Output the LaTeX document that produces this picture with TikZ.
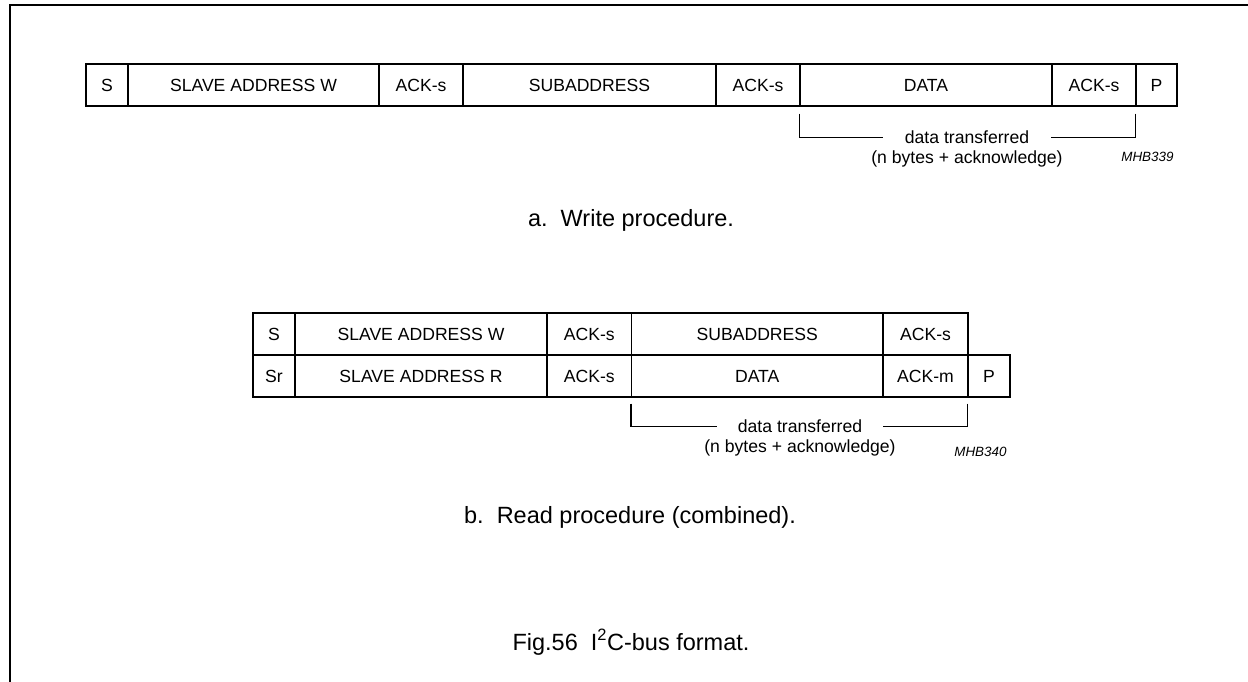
\documentclass[tikz,border=0pt]{standalone}
\usepackage{fontspec}
\setmainfont{Liberation Sans}
\begin{document}
\begin{tikzpicture}[x=1pt,y=-1pt,
  cell/.style={draw, line width=1.2pt, inner sep=0pt, minimum height=42pt,
    font=\fontsize{17.6}{20}\selectfont},
  bracket/.style={line width=1.2pt},
  brtext/.style={inner ysep=0pt, font=\fontsize{17.6}{20}\selectfont},
  tag/.style={anchor=base east, font=\fontsize{13.4}{16}\selectfont\itshape},
  title/.style={anchor=base, font=\fontsize{23.5}{28}\selectfont}]
\useasboundingbox (0,0) rectangle (1248,682);
% frame
\coordinate (fBL) at (10.3,684);
\coordinate (fTL) at (10.3,4.8);
\coordinate (fTR) at (1250,4.8);
\draw[line width=2pt] (fBL) -- (fTL) -- (fTR);
% ---- write procedure
\node[cell, minimum width=42pt]  (wS)   at (107,85)    {S};
\node[cell, minimum width=251pt] (wSA)  at (253.5,85)  {SLAVE ADDRESS W};
\node[cell, minimum width=84pt]  (wA1)  at (421,85)    {ACK-s};
\node[cell, minimum width=253pt] (wSub) at (589.5,85)  {SUBADDRESS};
\node[cell, minimum width=84pt]  (wA2)  at (758,85)    {ACK-s};
\node[cell, minimum width=252pt] (wD)   at (926,85)    {DATA};
\node[cell, minimum width=84pt]  (wA3)  at (1094,85)   {ACK-s};
\node[cell, minimum width=41pt]  (wP)   at (1156.5,85) {P};
\node[brtext, inner xsep=22pt] (wdt) at (967,137.7) {data transferred};
\node[brtext, anchor=base] (wnb) at (967,163.6) {(n bytes + acknowledge)};
\draw[bracket] ([yshift=-7pt]wD.south west) |- (wdt.west);
\draw[bracket] ([yshift=-7pt]wP.south west) |- (wdt.east);
\node[tag] (wtag) at (1177,161) {MHB339};
\node[title] (wtitle) at (631,226.5) {a.~~Write procedure.};
% ---- read procedure
\node[cell, minimum width=42pt]    (rS)   at (274,334)    {S};
\node[cell, minimum width=252pt]   (rSA)  at (421,334)    {SLAVE ADDRESS W};
\node[cell, minimum width=84.5pt]  (rA1)  at (589.25,334) {ACK-s};
\node[cell, minimum width=251.5pt] (rSub) at (757.25,334) {SUBADDRESS};
\node[cell, minimum width=85pt]    (rA2)  at (925.5,334)  {ACK-s};
\node[cell, minimum width=42pt]    (rSr)  at (274,376)    {Sr};
\node[cell, minimum width=252pt]   (rSAR) at (421,376)    {SLAVE ADDRESS R};
\node[cell, minimum width=84.5pt]  (rA3)  at (589.25,376) {ACK-s};
\node[cell, minimum width=251.5pt] (rD)   at (757.25,376) {DATA};
\node[cell, minimum width=85pt]    (rAm)  at (925.5,376)  {ACK-m};
\node[cell, minimum width=42pt]    (rP)   at (989,376)    {P};
\node[brtext, inner xsep=21pt] (rdt) at (800,426.7) {data transferred};
\node[brtext, anchor=base] (rnb) at (800,452.5) {(n bytes + acknowledge)};
\draw[bracket] ([yshift=-6pt]rD.south west) |- (rdt.west);
\draw[bracket] ([yshift=-6pt]rP.south west) |- (rdt.east);
\node[tag] (rtag) at (1010,456.5) {MHB340};
\node[title] (rtitle) at (630,523.3) {b.~~Read procedure (combined).};
% ---- caption
\node[title] (cap) at (631,650) {Fig.56~~I\textsuperscript{2}C-bus format.};
\end{tikzpicture}
\end{document}
